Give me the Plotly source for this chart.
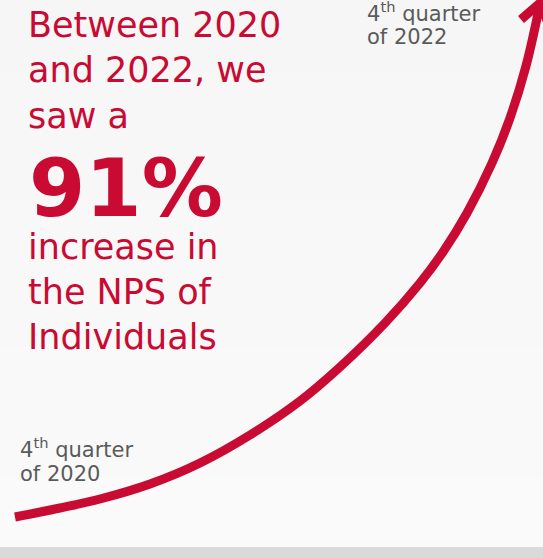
import plotly.graph_objects as go

W, H = 543, 558
RED = "#c90a32"
GREY = "#5a5a5a"

# NPS growth curve (decorative; canvas units, x to the right, pixel rows from the top)
growth_x = [15, 60, 100, 150, 200, 250, 300, 340, 385, 420, 443, 467, 492, 510, 526, 540]
growth_row = [517, 508, 499, 484, 463, 435, 401, 367, 323, 283, 252, 213, 163, 118, 66, 4]

# arrowhead chevron (rows from the top)
arrow_x = [521, 540, 549.5]
arrow_row = [19.5, 3, 26.6]

headline_lines = ["Between 2020", "and 2022, we", "saw a"]
headline_base = [37.3, 82.3, 128.3]
big_value = "91%"
big_base = 217
tail_lines = ["increase in", "the NPS of", "Individuals"]
tail_base = [260, 305, 349.5]

start_label = ["4<sup>th</sup> quarter", "of 2020"]
start_base = [458, 482]
end_label = ["4<sup>th</sup> quarter", "of 2022"]
end_base = [21.7, 45]

FONT = "DejaVu Sans"
DESC = 0.236  # font descent (em)

fig = go.Figure()

# background gradient bands
shapes = []
n = 30
for i in range(n):
    y0 = i * (H - 11) / n
    y1 = (i + 1) * (H - 11) / n
    t = i / (n - 1)
    c = int(round(246 + 4 * t))
    shapes.append(dict(type="rect", xref="x", yref="y", x0=0, x1=W,
                       y0=y0, y1=y1, fillcolor=f"rgb({c},{c},{c})",
                       line=dict(width=0), layer="below"))
shapes.append(dict(type="rect", xref="x", yref="y", x0=0, x1=W, y0=H - 11, y1=H,
                   fillcolor="#dadada", line=dict(width=0), layer="below"))

fig.add_trace(go.Scatter(x=growth_x, y=growth_row, mode="lines",
                         line=dict(color=RED, width=9, shape="spline", smoothing=1.0),
                         hoverinfo="skip", showlegend=False))
fig.add_trace(go.Scatter(x=arrow_x, y=arrow_row, mode="lines",
                         line=dict(color=RED, width=9),
                         hoverinfo="skip", showlegend=False))

ann = []
def add_text(txt, x, base, size, color, bold=False, family=FONT):
    # anchor bottom of text box: baseline + descent + border pad
    yb = base + DESC * size + 1
    ann.append(dict(text=f"<b>{txt}</b>" if bold else txt, x=x, y=yb,
                    xref="x", yref="y", xanchor="left", yanchor="bottom",
                    showarrow=False, font=dict(size=size, color=color, family=family)))

for t, b in zip(headline_lines, headline_base):
    add_text(t, 26, b, 35, RED)
add_text(big_value, 27, big_base, 81, RED, bold=True)
for t, b in zip(tail_lines, tail_base):
    add_text(t, 26, b, 35, RED)
for t, b in zip(start_label, start_base):
    add_text(t, 18, b, 21, GREY)
for t, b in zip(end_label, end_base):
    add_text(t, 365, b, 21, GREY)

fig.update_layout(
    width=W, height=H, margin=dict(l=0, r=0, t=0, b=0),
    paper_bgcolor="#f7f7f7", plot_bgcolor="#f7f7f7",
    xaxis=dict(range=[0, W], visible=False, fixedrange=True),
    yaxis=dict(range=[H, 0], visible=False, fixedrange=True),
    shapes=shapes, annotations=ann, showlegend=False,
)
fig.write_html("out.html")
